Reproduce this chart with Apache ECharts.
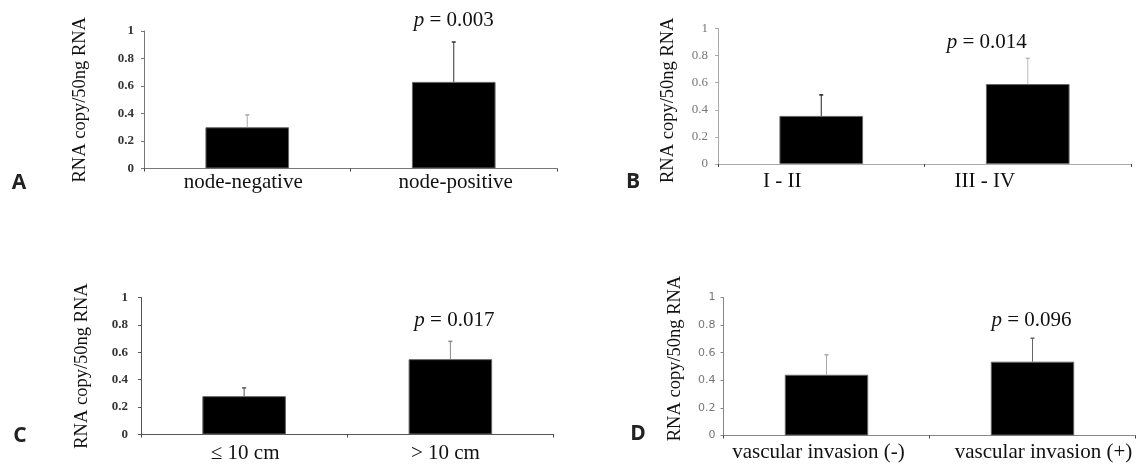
<!DOCTYPE html>
<html><head><meta charset="utf-8">
<script src="https://cdn.jsdelivr.net/npm/echarts@6/dist/echarts.min.js"></script>
<style>html,body{margin:0;padding:0;background:#fff;}#c{width:1137px;height:464px;}</style>
</head><body><div id="c"></div>
<script>
// ---------- data ----------
const panelLetters = ['A', 'B', 'C', 'D'];
const categoriesA = ['node-negative', 'node-positive'];
const categoriesB = ['I - II', 'III - IV'];
const categoriesC = ['≤ 10 cm', '> 10 cm'];
const categoriesD = ['vascular invasion (-)', 'vascular invasion (+)'];
const meansA = [0.30, 0.63];
const upperA = [0.39, 0.92];
const meansB = [0.355, 0.59];
const upperB = [0.51, 0.78];
const meansC = [0.28, 0.55];
const upperC = [0.34, 0.68];
const meansD = [0.44, 0.535];
const upperD = [0.585, 0.705];
const pValues = ['0.003', '0.014', '0.017', '0.096'];
const pLevels = [1.08, 0.90, 0.835, 0.837];
const yTicks = [0, 0.2, 0.4, 0.6, 0.8, 1];
const yAxisTitle = 'RNA copy/50ng RNA';

// ---------- layout / style (not data) ----------
const panels = [
  {cats: categoriesA, means: meansA, upper: upperA,
   grid: {left: 144, top: 31, width: 413, height: 137.5}, letter: [19, 183],
   nameGap: 54, namePad: [0, 0, 0, 0], labelMargin: 3, labelShift: [-4, 2], pShift: 0,
   axisColor: '#777', tickFont: {fontFamily: 'Liberation Serif', fontWeight: 'bold', fontSize: 13, color: '#333'}, tickMargin: 10,
   errColors: ['#aaa', '#333']},
  {cats: categoriesB, means: meansB, upper: upperB,
   grid: {left: 718, top: 28.5, width: 413, height: 135.5}, letter: [633, 182],
   nameGap: 40, namePad: [0, 8, 0, 0], labelMargin: 7, labelShift: [-39, -43], pShift: -41,
   axisColor: '#aaa', tickFont: {fontFamily: 'Liberation Serif', fontWeight: 'normal', fontSize: 13, color: '#777'}, tickMargin: 10,
   errColors: ['#222', '#bbb']},
  {cats: categoriesC, means: meansC, upper: upperC,
   grid: {left: 141, top: 297.5, width: 412.5, height: 137}, letter: [20, 436],
   nameGap: 49, namePad: [0, 0, 0, 0], labelMargin: 8, labelShift: [1, -5], pShift: 4,
   axisColor: '#555', tickFont: {fontFamily: 'Liberation Serif', fontWeight: 'bold', fontSize: 13, color: '#333'}, tickMargin: 13,
   errColors: ['#555', '#888']},
  {cats: categoriesD, means: meansD, upper: upperD,
   grid: {left: 723.5, top: 297.5, width: 412, height: 138}, letter: [638, 434],
   nameGap: 39, namePad: [0, 0, 0, 16], labelMargin: 6, labelShift: [-8, 11], pShift: -1,
   axisColor: '#888', tickFont: {fontFamily: 'DejaVu Sans', fontWeight: 'normal', fontSize: 11, color: '#777'}, tickMargin: 8,
   errColors: ['#aaa', '#666']}
];

const serif = 'Liberation Serif';
const option = {
  animation: false,
  backgroundColor: '#fff',
  grid: [], xAxis: [], yAxis: [], series: [], graphic: []
};

panels.forEach((p, k) => {
  option.grid.push(Object.assign({containLabel: false}, p.grid));
  option.xAxis.push({
    type: 'category', gridIndex: k,
    data: p.cats.map((c, i) => {
      const s = p.labelShift[i];
      return {value: c, textStyle: {padding: s < 0 ? [0, -2 * s, 0, 0] : [0, 0, 0, 2 * s]}};
    }),
    axisLine: {lineStyle: {color: p.axisColor, width: 1}},
    axisTick: {show: true, alignWithLabel: false, length: 3, lineStyle: {color: '#444'}},
    axisLabel: {fontFamily: serif, fontSize: 21, color: '#111', margin: p.labelMargin, interval: 0},
    splitLine: {show: false}
  });
  option.yAxis.push({
    type: 'value', gridIndex: k, min: yTicks[0], max: yTicks[yTicks.length - 1],
    interval: yTicks[1] - yTicks[0],
    name: yAxisTitle, nameLocation: 'middle', nameGap: p.nameGap, nameRotate: 90,
    nameTextStyle: {fontFamily: serif, fontSize: 18.5, color: '#111', padding: p.namePad},
    axisLine: {show: true, lineStyle: {color: p.axisColor, width: 1}},
    axisTick: {show: true, length: 3, lineStyle: {color: p.axisColor}},
    axisLabel: Object.assign({margin: p.tickMargin}, p.tickFont),
    splitLine: {show: false}
  });
  option.series.push({
    type: 'bar', xAxisIndex: k, yAxisIndex: k, barWidth: '40.5%',
    data: p.means,
    itemStyle: {color: '#000', borderColor: '#666', borderWidth: 1}
  });
  option.series.push({
    type: 'custom', xAxisIndex: k, yAxisIndex: k, z: 5,
    data: p.means.map((m, i) => [i, m, p.upper[i]]),
    renderItem: (params, api) => {
      const i = api.value(0);
      const b = api.coord([i, api.value(1)]);
      const t = api.coord([i, api.value(2)]);
      const col = p.errColors[i];
      return {type: 'group', children: [
        {type: 'line', shape: {x1: b[0], y1: b[1], x2: t[0], y2: t[1]}, style: {stroke: col, lineWidth: 1}},
        {type: 'line', shape: {x1: t[0] - 2, y1: t[1], x2: t[0] + 2, y2: t[1]}, style: {stroke: col, lineWidth: 1.5}}
      ]};
    }
  });
  option.series.push({
    type: 'custom', xAxisIndex: k, yAxisIndex: k, z: 6, clip: false,
    data: [[1, pLevels[k]]],
    renderItem: (params, api) => {
      const c = api.coord([api.value(0), api.value(1)]);
      return {type: 'text', style: {
        text: '{i|p} = ' + pValues[k],
        x: c[0] + p.pShift, y: c[1], align: 'center', verticalAlign: 'middle',
        fontFamily: serif, fontSize: 21, fill: '#111',
        rich: {i: {fontStyle: 'italic', fontFamily: serif, fontSize: 21, color: '#111'}}
      }};
    }
  });
  option.graphic.push({
    type: 'text', x: p.letter[0], y: p.letter[1],
    style: {text: panelLetters[k], fontFamily: 'Open Sans', fontWeight: 'bold', fontSize: 21, fill: '#222',
      align: 'center', verticalAlign: 'middle', textAlign: 'center', textVerticalAlign: 'middle'}
  });
});

const chart = echarts.init(document.getElementById('c'), null, {renderer: 'canvas'});
chart.setOption(option);
</script>
</body></html>
